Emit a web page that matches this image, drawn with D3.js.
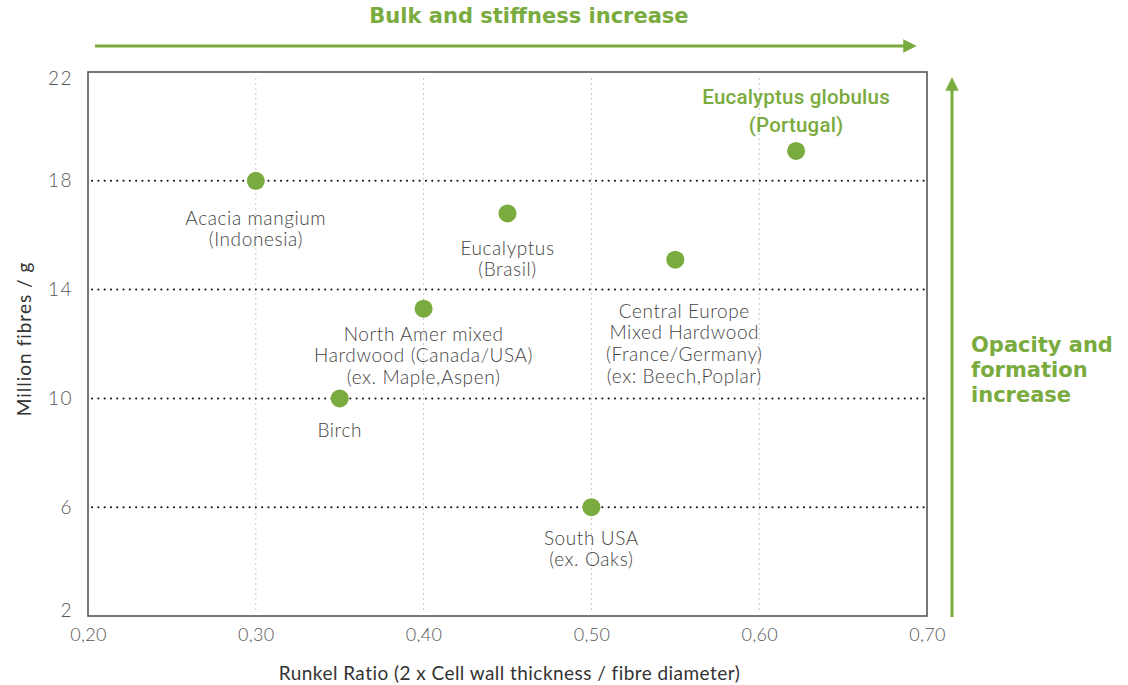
<!DOCTYPE html>
<html><head><meta charset="utf-8">
<script src="https://cdn.jsdelivr.net/npm/d3@7"></script>
<style>body{margin:0;background:#fff}svg{display:block}</style>
</head><body>
<script>
const species = ["Acacia mangium","Birch","North Amer mixed","Eucalyptus Brasil","South USA","Central Europe","Eucalyptus globulus"];
const runkel = [0.30, 0.35, 0.40, 0.45, 0.50, 0.55, 0.622];
const fibres = [18.0, 10.0, 13.3, 16.8, 6.0, 15.1, 19.1];
const labelLines = [
  ["Acacia mangium","(Indonesia)"],
  ["Birch"],
  ["North Amer mixed","Hardwood (Canada/USA)","(ex. Maple,Aspen)"],
  ["Eucalyptus","(Brasil)"],
  ["South USA","(ex. Oaks)"],
  ["Central Europe","Mixed Hardwood","(France/Germany)","(ex: Beech,Poplar)"],
  ["Eucalyptus globulus","(Portugal)"]
];
const xTicks = [0.20,0.30,0.40,0.50,0.60,0.70];
const yTicks = [2,6,10,14,18,22];
const yDotted = [6,10,14,18];
const xGrid = [0.30,0.40,0.50,0.60];
const xTitle = "Runkel Ratio (2 x Cell wall thickness / fibre diameter)";
const yTitle = "Million fibres / g";
const topNote = "Bulk and stiffness increase";
const sideNote = ["Opacity and","formation","increase"];

const W=1128,H=685;
const green="#7aab3e";
const svg=d3.select("body").append("svg").attr("width",W).attr("height",H);
const defs=svg.append("defs");
defs.append("marker").attr("id","ah").attr("viewBox","0 0 10 10").attr("refX",5).attr("refY",5)
  .attr("markerWidth",4.5).attr("markerHeight",4.5).attr("orient","auto")
  .append("path").attr("d","M0,0L10,5L0,10Z").attr("fill",green);

const L=88,R=927,T=72,B=616;
const x=d3.scaleLinear().domain([0.20,0.70]).range([L,R]);
const y=d3.scaleLinear().domain([2,22]).range([B,T]);
const lightFont="Lato, 'Open Sans', sans-serif";

// vertical light grid
svg.append("g").selectAll("line").data(xGrid).join("line")
  .attr("x1",d=>x(d)).attr("x2",d=>x(d)).attr("y1",T+6).attr("y2",B-6)
  .attr("stroke","#c8c8c8").attr("stroke-width",1).attr("stroke-dasharray","2,3");
// horizontal dotted
svg.append("g").selectAll("line").data(yDotted).join("line")
  .attr("x1",L+4).attr("x2",R-2).attr("y1",d=>y(d)).attr("y2",d=>y(d))
  .attr("stroke","#111").attr("stroke-width",2).attr("stroke-linecap","round").attr("stroke-dasharray","0.1,6.2");

// frame
svg.append("rect").attr("x",L).attr("y",T).attr("width",R-L).attr("height",B-T)
  .attr("fill","none").attr("stroke","#555").attr("stroke-width",1.6);

// axes (ticks as text only)
const xa=svg.append("g").attr("transform",`translate(0,${B})`)
  .call(d3.axisBottom(x).tickValues(xTicks).tickSize(0).tickPadding(12).tickFormat(d=>d3.format(".2f")(d).replace(".",",")));
xa.select(".domain").remove();
xa.selectAll("text").attr("font-family",lightFont).attr("font-weight",300).attr("font-size",18).attr("letter-spacing",0.3).attr("fill","#555");
const ya=svg.append("g").attr("transform",`translate(${L},0)`)
  .call(d3.axisLeft(y).tickValues(yTicks).tickSize(0).tickPadding(15));
ya.select(".domain").remove();
ya.selectAll("text").attr("font-family",lightFont).attr("font-weight",300).attr("font-size",19).attr("letter-spacing",1.5).attr("fill","#555");
ya.selectAll(".tick").filter(d=>d===22).select("text").attr("dy","0.65em");
ya.selectAll(".tick").filter(d=>d===2).select("text").attr("dy","0.05em");

// axis titles
svg.append("text").attr("x",(L+R)/2+2).attr("y",680).attr("text-anchor","middle")
  .attr("font-family",lightFont).attr("font-size",19).attr("letter-spacing",0.45).attr("fill","#333").text(xTitle);
svg.append("text").attr("transform",`translate(31,${(T+B)/2-5}) rotate(-90)`).attr("text-anchor","middle")
  .attr("font-family",lightFont).attr("font-size",19).attr("letter-spacing",1).attr("fill","#333").text(yTitle);

// points
svg.append("g").selectAll("circle").data(runkel).join("circle")
  .attr("cx",d=>x(d)).attr("cy",(d,i)=>y(fibres[i])).attr("r",9).attr("fill",green);

// labels
const offs=[
  {dx:0,dy:44,lh:21},{dx:0,dy:39,lh:21},{dx:0,dy:32,lh:21.5},{dx:0,dy:42,lh:21},{dx:0,dy:38,lh:21},{dx:9,dy:58,lh:21.7},{dx:0,dy:-47,lh:28}
];
species.forEach((s,i)=>{
  const last=i===6;
  const t=svg.append("text").attr("text-anchor","middle")
    .attr("font-family",last?"Roboto, sans-serif":lightFont)
    .attr("font-weight",last?500:300)
    .attr("letter-spacing",last?0.2:0.6)
    .attr("font-size",last?20.5:19).attr("fill",last?green:"#444");
  labelLines[i].forEach((ln,j)=>{
    t.append("tspan").attr("x",x(runkel[i])+offs[i].dx).attr("y",y(fibres[i])+offs[i].dy+j*offs[i].lh).text(ln);
  });
});

// annotation arrows
svg.append("line").attr("x1",95).attr("x2",910).attr("y1",46).attr("y2",46)
  .attr("stroke",green).attr("stroke-width",3).attr("marker-end","url(#ah)");
svg.append("text").attr("x",529).attr("y",23).attr("text-anchor","middle")
  .attr("font-family","'DejaVu Sans', Verdana, sans-serif").attr("font-weight","bold").attr("font-size",21)
  .attr("fill",green).text(topNote);
svg.append("line").attr("x1",952).attr("x2",952).attr("y1",617).attr("y2",84)
  .attr("stroke",green).attr("stroke-width",3).attr("marker-end","url(#ah)");
const st=svg.append("text").attr("font-family","'DejaVu Sans', Verdana, sans-serif").attr("font-weight","bold")
  .attr("font-size",21).attr("fill",green);
sideNote.forEach((s,j)=>st.append("tspan").attr("x",971).attr("y",352+j*25).text(s));
</script>
</body></html>
